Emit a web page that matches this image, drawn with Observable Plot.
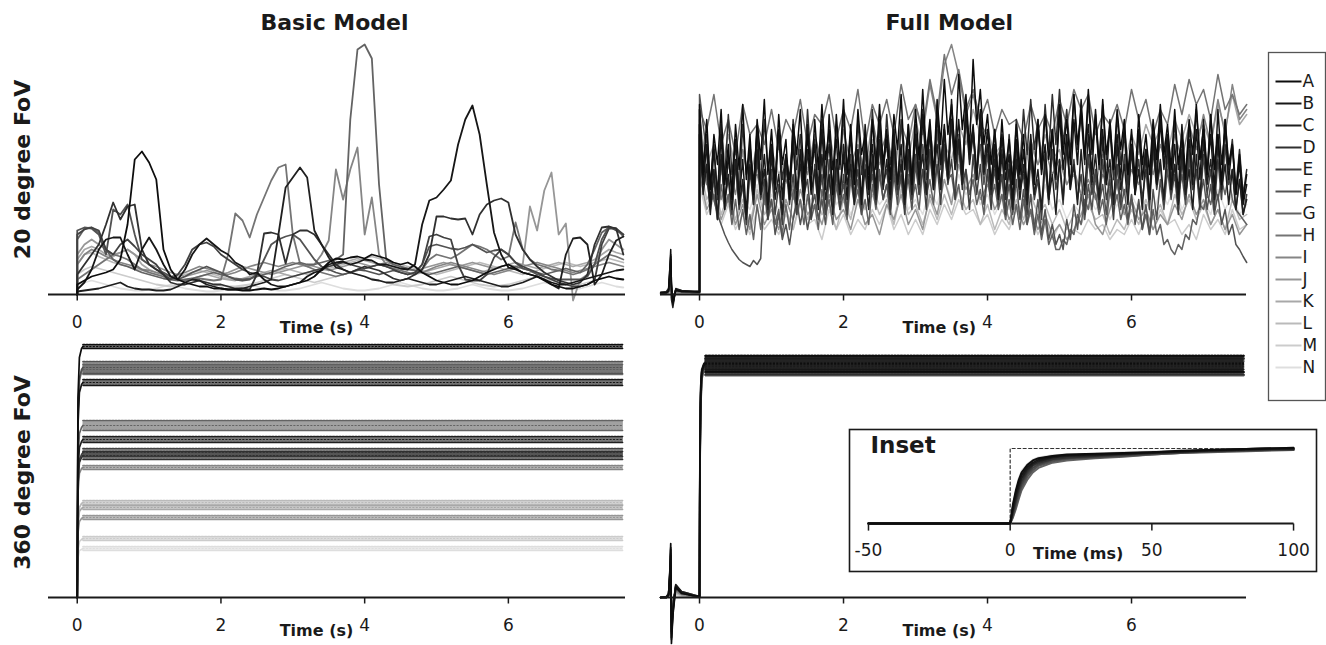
<!DOCTYPE html>
<html><head><meta charset="utf-8">
<script src="https://cdn.jsdelivr.net/npm/d3@7"></script>
<script src="https://cdn.jsdelivr.net/npm/@observablehq/plot@0.6"></script>
<style>
body{margin:0;background:#fff;}
#chart{position:relative;width:1326px;height:645px;}
#chart svg{position:absolute;left:0;top:0;}
</style></head><body><div id="chart"></div>
<script>
// ---------- labels ----------
const letters = ["A","B","C","D","E","F","G","H","I","J","K","L","M","N"];
const grays = ["#0d0d0d","#161616","#1f1f1f","#303030","#414141","#525252","#636363","#747474","#858585","#969696","#a8a8a8","#bababa","#cccccc","#dedede"];
const panelTitles = ["Basic Model","Full Model"];
const rowLabels = ["20 degree FoV","360 degree FoV"];
const axisTitle = "Time (s)";
const insetTitle = "Inset";
const insetAxisTitle = "Time (ms)";
const xTicks = [0,2,4,6];
const insetTicks = [-50,0,50,100];
const sampleStep = 0.1;   // s, sampling of the Basic-model traces and of traces H..N (first sample at t = 0)

// ---------- Basic model, 20 degree FoV ----------
const basic20 = [
/*A*/[10,14,18,20,22,25,35,70,135,143, 132,115,45,25,15,12,10,8,8,6, 6,5,5,4,4,5,6,5,6,8, 10,12,14,18,25,32,36,35,37,38, 36,40,38,36,32,30,32,28,22,18, 14,12,10,10,12,14,18,22,25,28, 30,26,22,20,18,14,10,8,6,6, 8,10,14,16,18,16,15],
/*B*/[5,12,25,45,55,57,57,40,25,45, 57,45,30,18,15,25,40,50,56,50, 44,40,32,28,20,22,15,10,8,8, 10,12,18,22,24,30,32,33,30,32, 35,34,30,30,28,26,25,30,70,94, 97,105,114,150,175,189,160,110,62,40, 27,25,22,20,18,15,12,10,10,12, 14,16,18,20,22,24,25],
/*C*/[3,4,5,6,8,10,12,8,6,5, 5,4,4,5,8,12,15,14,10,8, 6,5,5,6,8,10,12,15,60,107, 117,127,117,64,50,37,27,25,22,20, 18,15,14,12,12,14,16,14,12,10, 10,12,14,16,18,16,14,12,10,8, 8,10,12,15,18,15,10,6,40,56, 57,50,10,20,40,54,58],
/*D*/[20,30,40,50,70,92,75,88,90,45, 30,25,20,12,10,10,12,14,12,10, 10,8,6,6,5,20,61,62,60,31, 60,64,64,60,50,40,30,25,22,25, 28,26,24,20,16,14,16,20,25,40, 78,78,76,75,76,60,80,90,94,96, 92,60,45,35,28,22,18,14,12,10, 12,20,50,67,68,66,40],
/*E*/[60,65,67,64,45,40,50,55,48,40, 35,30,20,15,20,30,45,50,52,48, 40,35,30,25,22,20,18,15,14,16, 18,20,22,24,26,28,30,32,30,28, 26,28,30,28,25,22,20,22,30,58, 60,57,55,30,15,14,14,20,37,45, 40,32,28,25,22,18,15,12,10,8, 8,10,14,50,66,66,60],
/*F*/[64,67,66,60,40,85,80,90,60,35, 30,25,22,18,15,18,22,25,28,25, 22,18,15,14,15,20,35,50,55,58, 60,55,45,35,28,25,22,20,22,25, 24,22,20,22,24,22,20,22,30,48, 50,48,46,45,47,50,46,42,44,45, 40,32,26,24,20,18,16,15,15,15, 15,18,30,55,68,64,60],
/*G*/[55,66,67,62,45,35,30,28,25,22, 20,18,16,15,14,15,16,18,20,22, 20,18,16,15,16,18,20,22,25,28, 30,32,30,30,32,34,35,40,175,245, 250,236,110,35,30,28,26,24,22,20, 22,24,26,28,26,24,22,20,22,24, 26,28,26,24,22,20,22,24,26,24, 22,30,45,62,67,66,58],
/*H*/[15,20,25,30,35,40,38,35,30,25, 22,20,18,16,15,14,15,16,15,14, 15,40,81,74,57,80,97,114,127,130, 60,31,28,25,22,20,18,20,22,24, 26,28,30,28,26,24,22,20,25,35, 40,38,36,40,45,50,48,45,40,35, 38,72,45,35,30,28,25,24,22,20, 22,25,30,35,40,38,35],
/*I*/[30,40,45,42,38,35,32,30,28,25, 24,22,20,18,20,22,25,28,26,24, 22,20,22,25,28,30,32,30,28,30, 32,30,28,30,40,54,125,95,125,147, 60,97,40,30,28,26,25,24,22,25, 28,30,32,30,28,26,24,22,20,22, 24,26,28,30,32,30,28,26,24,22, 24,26,28,30,32,30,28],
/*J*/[40,50,55,50,45,40,42,45,40,35, 30,28,25,22,20,18,20,22,24,22, 20,22,25,28,26,24,22,20,22,24, 26,28,30,28,26,24,26,28,30,32, 30,28,30,32,30,28,26,24,26,28, 30,32,30,28,30,32,30,28,26,28, 30,28,30,88,64,104,122,60,71,-6, 15,20,30,45,55,50,45],
/*K*/[35,45,48,45,40,38,42,45,40,30, 25,22,20,18,15,14,16,18,20,18, 16,15,14,16,18,20,22,24,22,20, 18,20,22,24,26,28,30,32,34,36, 34,32,30,28,26,24,22,20,22,24, 26,28,30,28,26,24,22,24,26,28, 30,32,30,28,26,28,30,32,30,28, 30,32,35,40,45,42,40],
/*L*/[30,40,42,38,35,32,30,28,26,24, 22,20,18,16,18,20,22,24,22,20, 18,16,15,14,16,18,20,22,24,26, 24,22,20,22,24,26,28,30,32,34, 36,38,36,34,32,30,28,26,24,22, 20,22,24,26,28,30,32,30,28,26, 24,22,20,22,24,26,28,30,32,30, 28,30,32,34,36,34,32],
/*M*/[20,25,28,26,24,22,20,18,16,14, 12,10,9,8,9,10,12,14,12,10, 9,8,8,9,10,12,14,16,18,20, 18,16,14,12,14,16,18,20,22,20, 18,16,14,12,10,9,8,9,10,12, 14,16,18,16,14,12,10,9,8,9, 10,12,14,16,18,16,14,12,10,9, 10,12,14,16,18,16,15],
/*N*/[10,12,14,12,10,8,6,5,4,4, 5,6,8,10,8,6,5,4,3,3, 4,5,6,8,10,8,6,5,4,4, 5,6,8,10,12,10,8,6,5,4, 4,5,6,8,10,12,10,8,6,5, 4,4,5,6,8,10,8,6,5,4, 4,5,6,8,10,12,10,8,6,5, 6,8,10,12,10,8,7]
];

// ---------- Full model, 20 degree FoV ----------
const preTimes = [-0.54,-0.46,-0.43,-0.41,-0.40,-0.39,-0.37,-0.33,-0.25,-0.10,0];
const full20Pre = [
[2,2,4,30,45,10,-8,4,3,3,3],[2,2,3,25,38,12,-10,5,3,3,2],[1,2,5,20,35,-5,-13,6,4,3,3],
[2,3,6,28,40,5,-6,5,4,3,3],[1,2,4,18,30,8,-4,4,3,2,2],[2,2,5,22,32,-3,-9,5,3,3,3],
[1,1,3,15,26,6,-3,4,3,2,2],[1,2,4,12,22,4,-2,3,3,2,2],[1,1,3,10,18,3,-2,3,2,2,2],
[1,1,2,8,14,2,-1,2,2,2,2],[1,1,2,6,12,2,-1,2,2,1,1],[0,1,2,5,10,2,0,2,1,1,1],
[0,1,1,4,8,1,0,1,1,1,1],[0,0,1,3,6,1,0,1,1,1,1]
];
// traces A..G sampled every 0.05 s, H..N every 0.1 s
const full20Steps = [0.05,0.05,0.05,0.05,0.05,0.05,0.05,0.1,0.1,0.1,0.1,0.1,0.1,0.1];
const full20 = [
/*A*/[190,120,175,105,160,130,185,110,150,95, 170,125,190,115,160,100,175,135,195,120, 165,110,180,130,155,95,170,140,185,115, 160,105,175,125,190,135,165,100,180,130, 195,120,170,110,185,140,160,105,175,125, 190,130,165,115,180,145,200,125,170,110, 185,135,205,140,175,120,195,150,215,160, 190,140,220,165,200,145,235,170,205,150, 180,130,165,115,175,125,155,110,170,120, 160,105,150,115,170,125,180,135,165,120, 190,140,175,130,200,150,185,135,205,145, 180,130,195,140,170,125,185,145,175,120, 165,115,180,130,160,120,175,135,190,140, 170,125,185,130,160,115,175,140,190,135, 165,120,180,125,160,110,175,130,150,100, 140,95,120],
/*B*/[170,110,150,90,145,100,160,85,140,105, 155,95,135,80,150,110,165,100,140,90, 150,105,165,95,140,115,160,90,145,100, 170,120,150,95,165,105,180,125,155,100, 140,95,160,115,145,90,170,120,150,105, 175,125,155,100,165,110,150,95,170,115, 160,110,180,125,165,105,185,130,170,120, 195,135,175,120,190,140,170,115,185,130, 165,110,150,100,160,115,140,95,155,105, 145,100,160,110,175,120,150,95,165,115, 180,125,160,105,175,130,195,140,170,120, 185,130,165,110,175,125,160,115,170,120, 150,100,165,115,145,95,160,110,175,125, 160,105,150,100,170,120,155,110,165,115, 175,120,160,105,185,130,165,115,150,100, 130,90,110],
/*C*/[160,100,130,80,125,75,140,95,120,85, 135,90,115,75,130,95,145,100,125,85, 140,95,120,80,135,100,150,105,130,90, 145,100,125,85,140,95,120,80,135,100, 150,110,130,90,145,100,125,85,140,95, 155,105,135,95,150,110,130,90,145,100, 160,115,140,100,170,120,150,105,165,115, 175,125,155,110,180,130,160,115,170,120, 150,105,135,95,140,100,125,85,135,95, 130,90,145,100,125,85,140,95,120,80, 135,95,150,105,130,90,145,100,160,110, 140,95,155,110,135,90,150,105,130,90, 145,100,125,85,140,95,155,110,135,95, 150,105,130,90,145,100,125,85,140,95, 155,110,135,95,150,105,130,90,125,85, 115,80,95],
/*D*/[185,130,160,110,150,95,170,115,180,120, 155,100,170,120,145,90,165,110,175,125, 150,105,165,115,140,95,175,125,160,110, 185,130,155,105,175,120,150,100,170,125, 180,125,160,110,175,120,150,100,185,135, 165,115,180,130,155,105,175,125,160,110, 170,120,185,135,160,110,180,130,165,115, 175,125,155,105,185,135,165,115,180,125, 150,100,165,115,145,95,160,110,175,125, 185,140,195,145,175,130,190,140,200,150, 205,150,185,140,200,145,180,130,195,140, 175,125,190,135,165,115,180,130,160,110, 150,100,165,115,145,95,170,120,180,130, 160,110,175,125,155,105,170,120,185,135, 165,115,180,130,160,110,175,125,155,105, 145,100,125],
/*E*/[160,110,130,85,120,75,135,95,115,80, 130,85,110,70,125,90,135,95,115,75, 125,80,110,70,130,90,120,80,140,100, 115,75,130,90,120,80,135,95,125,85, 120,80,140,100,125,85,145,105,130,90, 150,110,125,85,140,100,120,80,135,95, 140,100,125,85,145,105,130,90,150,110, 135,95,150,110,125,85,140,100,130,90, 125,85,140,100,120,80,130,90,145,105, 120,80,135,95,115,75,130,90,145,105, 130,90,150,110,135,95,120,80,140,100, 125,85,135,95,115,75,130,90,140,100, 150,110,135,95,125,85,145,105,130,90, 140,100,120,80,135,95,145,105,125,85, 140,100,125,85,135,95,150,110,125,85, 115,80,100],
/*F*/[200,170,140,115,95,80,70,60,52,45, 40,35,32,30,28,34,30,36,110,80, 95,60,80,55,70,50,75,95,70,90, 65,85,100,75,95,70,115,90,120,95, 110,85,125,95,115,80,130,100,120,90, 125,95,110,80,120,90,135,105,115,85, 130,100,150,115,140,105,165,125,150,115, 175,135,160,120,185,145,165,125,150,110, 140,100,125,90,120,85,110,80,115,75, 105,70,100,65,95,60,85,55,70,50, 60,45,75,55,90,65,100,75,110,85, 120,90,110,80,125,95,115,85,105,75, 100,70,95,65,90,60,105,75,115,85, 125,95,130,100,120,90,135,105,125,95, 115,85,110,80,100,70,85,60,70,50, 45,38,32],
/*G*/[170,140,115,90,100,75,110,85,100,70, 95,65,85,60,80,55,90,65,100,75, 95,70,85,60,90,65,105,80,95,70, 100,75,90,65,105,80,95,70,110,85, 100,75,115,90,105,80,95,70,110,85, 120,95,110,85,125,100,115,90,120,95, 110,85,125,100,115,90,130,105,140,115, 120,95,110,85,125,100,115,90,105,80, 120,95,110,85,100,75,95,70,90,65, 95,70,85,60,80,55,75,50,60,45, 45,55,50,65,60,80,70,95,85,110, 100,80,95,70,105,85,100,75,90,70, 95,75,90,65,80,60,85,60,70,50, 55,45,40,50,45,60,55,75,70,90, 85,100,90,110,95,115,100,120,95,85, 80,75,70],
/*H*/[185,165,200,150,175,140,190,160,170,150, 185,145,175,160,195,150,180,170,200,155, 185,165,205,150,190,170,195,160,210,175, 190,165,215,180,240,200,225,185,205,175, 195,160,185,170,175,155,190,165,180,160, 195,170,205,185,200,160,180,170,190,165, 205,175,195,160,185,170,210,180,215,190, 205,175,220,185,200,180,190],
/*I*/[140,110,125,95,130,100,145,115,120,90, 135,105,115,95,140,120,160,130,145,110, 165,130,150,120,175,140,160,125,170,150, 190,160,210,175,230,250,220,180,200,170, 160,130,150,115,140,125,155,130,145,120, 135,110,125,100,115,95,120,105,130,100, 125,110,145,120,150,125,160,135,170,145, 180,150,195,160,210,175,185],
/*J*/[120,85,100,75,95,70,90,65,100,70, 85,65,95,75,105,80,90,70,100,75, 85,65,95,70,80,60,90,75,100,70, 85,65,100,80,115,90,130,105,120,95, 110,85,100,75,90,70,85,65,80,60, 70,55,65,80,100,70,60,85,110,80, 95,75,85,65,80,70,90,75,100,80, 95,70,85,65,80,60,70],
/*K*/[175,130,150,120,160,125,140,115,150,110, 145,120,135,105,150,125,140,110,160,130, 150,115,140,120,155,130,145,120,165,135, 175,145,160,130,150,135,170,150,185,160, 165,140,150,125,140,120,150,130,160,135, 145,110,120,100,130,110,140,120,150,130, 160,140,170,150,165,140,175,155,180,160, 170,150,190,165,200,170,180],
/*L*/[130,95,110,80,100,75,95,70,105,80, 90,70,85,65,95,75,100,80,90,65, 95,75,110,85,100,80,95,70,105,80, 90,70,95,75,100,80,105,85,95,70, 90,65,85,70,95,75,100,80,90,70, 85,65,80,70,90,75,80,60,75,65, 85,70,95,75,90,70,100,80,95,75, 90,70,85,65,95,75,80],
/*M*/[110,80,95,70,90,65,80,60,85,65, 75,60,80,65,90,70,75,55,85,65, 80,60,75,65,85,70,90,65,80,60, 75,60,85,70,90,75,95,80,85,70, 80,60,75,65,85,70,80,60,75,55, 70,55,65,60,75,65,70,55,65,60, 75,60,80,65,85,70,75,60,70,55, 80,65,75,60,85,65,70],
/*N*/[120,90,105,80,100,75,95,85,110,80, 100,85,95,75,105,90,100,80,115,90, 100,80,95,85,105,90,100,75,110,85, 95,80,105,90,115,95,120,100,110,90, 100,80,95,85,105,90,100,80,110,85, 95,75,90,80,100,85,95,75,90,80, 100,85,95,80,105,90,110,85,100,80, 95,80,105,85,100,80,90]
];

// ---------- Basic model, 360 degree FoV ----------
const basic360RiseTimes = [0.01,0.03,0.06];
const basic360Rise = [[200,240,249],[172,205,213],[126,150,156],[113,135,140],[116,138,143],[184,219,228],[137,164,170],[182,217,226],[104,124,129],[64,76,79],[72,86,89],[76,90,94],[47,56,58],[39,47,48]];
const basic360Level = [251,215,158,142,145,230,172,228,130,80,90,95,59,49];
const basic360Amp   = [2,3,3,4,4,6,5,5,2,2,2,2,2,2];

// ---------- Full model, 360 degree FoV ----------
const full360Pre = [
[0,0,2,30,54,-46,-18,10,4,2,1],[0,0,3,26,48,-40,-14,12,5,2,1],[0,1,4,22,42,-34,-10,13,6,3,1],
[0,0,3,28,50,-42,-16,11,5,2,1],[0,1,2,18,36,-28,-8,10,5,2,1],[0,0,3,24,44,-36,-12,12,6,3,1],
[0,1,2,16,32,-24,-6,9,4,2,1],[0,0,2,14,28,-20,-5,8,4,2,1],[0,0,2,12,24,-16,-4,7,3,2,1],
[0,0,1,10,20,-12,-3,6,3,1,1],[0,0,1,8,16,-10,-2,5,3,1,1],[0,0,1,6,12,-8,-2,4,2,1,0],
[0,0,1,5,10,-6,-1,3,2,1,0],[0,0,1,4,8,-4,-1,2,1,1,0]
];
const full360RiseTimes = [0.005,0.015,0.03,0.06];
const full360Rise = [[140,205,226,233],[135,200,225,232],[145,210,228,234],[130,195,222,230],[125,190,221,231],[120,185,219,229],[115,180,217,228],[138,202,224,232],[128,192,221,230],[122,188,220,229],[132,198,223,231],[126,190,221,230],[118,182,218,228],[124,188,220,229]];
const full360Level = [234,233,235,231,232,230,229,233,231,230,232,231,229,230];
const full360Amp   = [8,8,7,8,7,8,7,7,8,7,7,8,7,7];

// ---------- Inset (ms) ----------
const insetTimes = [-50,0,1,2,3,4,6,8,10,15,20,30,40,50,60,70,80,90,100];
const insetStim = [{t:0,v:0},{t:0,v:1},{t:100,v:1}];
const insetValues = [
[0,0,0.26,0.44,0.58,0.68,0.78,0.84,0.87,0.90,0.92,0.93,0.94,0.95,0.97,0.98,0.99,1.00,1.01],
[0,0,0.22,0.40,0.54,0.64,0.75,0.81,0.85,0.89,0.91,0.92,0.93,0.95,0.96,0.98,0.99,1.00,1.00],
[0,0,0.18,0.35,0.49,0.60,0.72,0.79,0.83,0.88,0.90,0.91,0.93,0.94,0.96,0.97,0.98,0.99,1.00],
[0,0,0.15,0.31,0.45,0.56,0.69,0.77,0.81,0.86,0.88,0.90,0.92,0.94,0.95,0.97,0.98,0.99,0.99],
[0,0,0.12,0.27,0.41,0.52,0.66,0.74,0.79,0.85,0.87,0.89,0.91,0.93,0.95,0.96,0.97,0.98,0.99],
[0,0,0.10,0.23,0.36,0.48,0.62,0.71,0.77,0.83,0.86,0.88,0.90,0.92,0.94,0.96,0.97,0.98,0.98],
[0,0,0.08,0.19,0.32,0.44,0.58,0.68,0.74,0.81,0.84,0.87,0.89,0.92,0.94,0.95,0.96,0.97,0.98],
[0,0,0.24,0.42,0.56,0.66,0.77,0.83,0.86,0.90,0.91,0.92,0.94,0.95,0.96,0.98,0.99,1.00,1.00],
[0,0,0.20,0.37,0.51,0.62,0.73,0.80,0.84,0.88,0.90,0.91,0.93,0.94,0.96,0.97,0.98,0.99,1.00],
[0,0,0.16,0.33,0.47,0.58,0.70,0.78,0.82,0.87,0.89,0.90,0.92,0.94,0.95,0.97,0.98,0.99,0.99],
[0,0,0.14,0.29,0.43,0.54,0.67,0.75,0.80,0.85,0.88,0.90,0.91,0.93,0.95,0.96,0.97,0.98,0.99],
[0,0,0.11,0.25,0.38,0.50,0.64,0.73,0.78,0.84,0.87,0.89,0.91,0.93,0.94,0.96,0.97,0.98,0.98],
[0,0,0.09,0.21,0.34,0.46,0.60,0.70,0.76,0.82,0.85,0.88,0.90,0.92,0.94,0.95,0.96,0.97,0.98],
[0,0,0.28,0.46,0.60,0.70,0.79,0.85,0.88,0.91,0.92,0.93,0.95,0.96,0.97,0.98,0.99,1.00,1.01]
];

// ================= drawing =================
const W = 1326, H = 645;
const INK = "#1a1a1a";
const FONT = '"DejaVu Sans", "Liberation Sans", Arial, sans-serif';
const order = d3.range(letters.length).reverse(); // light traces first, dark on top
const color = {domain: letters, range: grays};

function frame(x0, x1, yTop, yBottom) {
  return {width: W, height: H, marginLeft: x0, marginRight: W - x1, marginTop: yTop, marginBottom: H - yBottom,
    style: {background: "transparent", fontFamily: FONT, overflow: "visible"}};
}

function axisMarks(title, titleX, rowLabel) {
  const m = [
    Plot.ruleY([0], {stroke: INK, strokeWidth: 2}),
    Plot.link(xTicks, {x1: d => d, x2: d => d, y1: 0, y2: -6, stroke: INK, strokeWidth: 1.5}),
    Plot.text(xTicks, {x: d => d, y: 0, text: d => String(d), dy: 21, lineAnchor: "top", fontSize: 17, fill: INK}),
    Plot.text([axisTitle], {x: 3.33, y: 0, text: d => d, dy: 27, lineAnchor: "top", fontSize: 16, fontWeight: "bold", fill: INK})
  ];
  if (title) m.push(Plot.text([title], {x: titleX, frameAnchor: "top", text: d => d, dy: -22, lineAnchor: "middle", fontSize: 22, fontWeight: "bold", fill: INK}));
  if (rowLabel) m.push(Plot.text([rowLabel], {frameAnchor: "left", text: d => d, dx: -26, rotate: -90, textAnchor: "middle", lineAnchor: "middle", fontSize: 22, fontWeight: "bold", fill: INK}));
  return m;
}

function bandMarks(levels, amps, riseTimes, rises, pre, tStart, tEnd, fillOpacity) {
  const marks = [];
  for (const k of order) {
    const rise = [];
    if (pre) preTimes.forEach((t, j) => rise.push({t, v: pre[k][j]}));
    else rise.push({t: 0, v: 0});
    riseTimes.forEach((t, j) => rise.push({t, v: rises[k][j]}));
    rise.push({t: tStart, v: levels[k]});
    const band = [{t: tStart, lo: levels[k] - amps[k], hi: levels[k] + amps[k]}, {t: tEnd, lo: levels[k] - amps[k], hi: levels[k] + amps[k]}];
    marks.push(
      Plot.line(rise, {x: "t", y: "v", stroke: grays[k], strokeWidth: 1.7}),
      Plot.areaY(band, {x: "t", y1: "lo", y2: "hi", fill: grays[k], fillOpacity}),
      Plot.line(band, {x: "t", y: "hi", stroke: grays[k], strokeWidth: 1.6, strokeDasharray: "2,1.2"}),
      Plot.line(band, {x: "t", y: "lo", stroke: grays[k], strokeWidth: 1.6, strokeDasharray: "2,1.2"}),
      Plot.line(band, {x: "t", y: d => (d.lo + d.hi) / 2, stroke: grays[k], strokeWidth: 1.2, strokeDasharray: "1.2,2.2"})
    );
  }
  return marks;
}

const root = document.getElementById("chart");

// ---- top-left: Basic model, 20 deg ----
{
  const rows = [];
  for (const k of order) {
    rows.push({s: letters[k], t: 0, v: 0});
    basic20[k].forEach((v, i) => rows.push({s: letters[k], t: i * sampleStep, v}));
  }
  root.appendChild(Plot.plot({...frame(48, 625, 44, 294),
    x: {domain: [-0.4, 7.63], axis: null}, y: {domain: [0, 250], axis: null}, color,
    marks: [
      Plot.line(rows, {x: "t", y: "v", z: "s", stroke: "s", strokeWidth: 1.8}),
      ...axisMarks(panelTitles[0], 3.58, rowLabels[0])
    ]}));
}

// ---- top-right: Full model, 20 deg ----
{
  const rows = [];
  for (const k of order) {
    preTimes.forEach((t, j) => rows.push({s: letters[k], t, v: full20Pre[k][j]}));
    full20[k].forEach((v, i) => rows.push({s: letters[k], t: i * full20Steps[k], v}));
  }
  root.appendChild(Plot.plot({...frame(660, 1246, 44, 294),
    x: {domain: [-0.542, 7.597], axis: null}, y: {domain: [0, 250], axis: null}, color,
    marks: [
      Plot.line(rows, {x: "t", y: "v", z: "s", stroke: "s", strokeWidth: 1.5}),
      ...axisMarks(panelTitles[1], 3.47, null)
    ]}));
}

// ---- bottom-left: Basic model, 360 deg ----
root.appendChild(Plot.plot({...frame(48, 625, 347, 597),
  x: {domain: [-0.4, 7.63], axis: null}, y: {domain: [0, 250], axis: null},
  marks: [
    ...bandMarks(basic360Level, basic360Amp, basic360RiseTimes, basic360Rise, null, 0.08, 7.6, 0.6),
    ...axisMarks(null, 0, rowLabels[1])
  ]}));

// ---- bottom-right: Full model, 360 deg ----
root.appendChild(Plot.plot({...frame(660, 1246, 347, 597),
  x: {domain: [-0.542, 7.597], axis: null}, y: {domain: [0, 250], axis: null},
  marks: [
    ...bandMarks(full360Level, full360Amp, full360RiseTimes, full360Rise, full360Pre, 0.08, 7.56, 0.35),
    ...axisMarks(null, 0, null)
  ]}));

// ---- inset ----
{
  const rows = [];
  for (const k of order) insetTimes.forEach((t, j) => rows.push({s: letters[k], t, v: insetValues[k][j]}));
  root.appendChild(Plot.plot({...frame(849, 1316, 429, 571),
    x: {domain: [-56.7, 108.1], axis: null}, y: {domain: [-0.64, 1.253], axis: null}, color,
    marks: [
      Plot.frame({fill: "white", stroke: INK, strokeWidth: 1.6}),
      Plot.line(insetStim, {x: "t", y: "v", stroke: "#333", strokeWidth: 1.2, strokeDasharray: "3,2.5"}),
      Plot.link([insetTicks], {x1: d => d[0], x2: d => d[d.length - 1], y1: 0, y2: 0, stroke: INK, strokeWidth: 2}),
      Plot.link(insetTicks, {x1: d => d, x2: d => d, y1: 0, y2: -0.095, stroke: INK, strokeWidth: 1.5}),
      Plot.text(insetTicks, {x: d => d, y: 0, text: d => String(d), dy: 20, lineAnchor: "top", fontSize: 17, fill: INK}),
      Plot.text([insetAxisTitle], {x: 24, y: 0, text: d => d, dy: 24, lineAnchor: "top", fontSize: 16, fontWeight: "bold", fill: INK}),
      Plot.line(rows, {x: "t", y: "v", z: "s", stroke: "s", strokeWidth: 1.9}),
      Plot.text([insetTitle], {frameAnchor: "top-left", text: d => d, dx: 21, dy: 7, textAnchor: "start", lineAnchor: "top", fontSize: 23, fontWeight: "bold", fill: INK})
    ]}));
}

// ---- legend ----
root.appendChild(Plot.plot({...frame(1268, 1325, 52, 400),
  x: {domain: [0, 57], axis: null}, y: {type: "point", domain: letters, range: [65, 383], axis: null}, color,
  marks: [
    Plot.frame({fill: "white", stroke: "#555", strokeWidth: 1.3}),
    Plot.link(letters, {x1: 7, x2: 33, y1: d => d, y2: d => d, stroke: d => d, strokeWidth: 2}),
    Plot.text(letters, {x: 34, y: d => d, text: d => d, textAnchor: "start", fontSize: 17, fill: INK})
  ]}));
</script></body></html>
